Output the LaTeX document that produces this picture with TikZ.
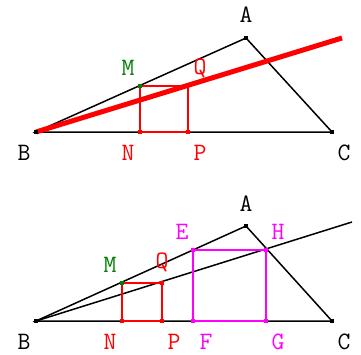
\documentclass[tikz,border=0pt]{standalone}
\usetikzlibrary{positioning}
\definecolor{ptred}{RGB}{255,0,0}
\definecolor{ptgreen}{RGB}{0,128,0}
\definecolor{ptpink}{RGB}{255,0,255}

\begin{document}
\begin{tikzpicture}[
    x=1pt, y=-1pt,
    edge/.style={draw=black, line width=1.5pt},
    redline/.style={draw=ptred, line width=1.5pt},
    pinkline/.style={draw=ptpink, line width=2pt},
    vtx/.style={rectangle, fill=#1, inner sep=0pt, minimum size=3.5pt},
    lbl/.style={text=#1, font=\ttfamily\fontsize{25}{28}\selectfont, inner sep=0pt}
]
    \useasboundingbox (0,0) rectangle (361,354);

    % Top figure points
    \coordinate (A) at (246,38);
    \coordinate (B) at (36,132);
    \coordinate (C) at (332,132);
    \coordinate (M) at (140,86);
    \coordinate (N) at (140,132);
    \coordinate (P) at (188,132);
    \coordinate (Q) at (188,86);
    \coordinate (T) at (342,38);

    % Top triangle and square
    \draw[edge] (B) -- (A) -- (C) -- cycle;
    \draw[redline] (M) -- (Q) -- (P) -- (N) -- cycle;
    \draw[draw=ptred, line width=5pt] (B) -- (T);

    % Top dots
    \node[vtx=black] (dA) at (A) {};
    \node[vtx=black] (dB) at (B) {};
    \node[vtx=black] (dC) at (C) {};
    \node[vtx=ptgreen] (dM) at (M) {};
    \node[vtx=ptred] (dN) at (N) {};
    \node[vtx=ptred] (dP) at (P) {};

    % Top labels
    \node[lbl=black] (lA) at (246,15) {A};
    \node[lbl=black] (lB) at (24,153) {B};
    \node[lbl=black] (lC) at (344,153) {C};
    \node[lbl=ptgreen] (lM) at (128,68) {M};
    \node[lbl=ptred] (lQ) at (200,68) {Q};
    \node[lbl=ptred] (lN) at (128,153) {N};
    \node[lbl=ptred] (lP) at (200,153) {P};

    % Bottom figure points
    \coordinate (A2) at (246,226);
    \coordinate (B2) at (36,321);
    \coordinate (C2) at (332,321);
    \coordinate (M2) at (122,283);
    \coordinate (N2) at (122,321);
    \coordinate (P2) at (162,321);
    \coordinate (Q2) at (162,283);
    \coordinate (E2) at (193,250);
    \coordinate (F2) at (193,321);
    \coordinate (G2) at (266,321);
    \coordinate (H2) at (266,250);
    \coordinate (T2) at (352,222);

    % Bottom triangle, ray and squares
    \draw[edge] (B2) -- (A2) -- (C2) -- cycle;
    \draw[edge] (B2) -- (T2);
    \draw[redline] (M2) -- (Q2) -- (P2) -- (N2) -- cycle;
    \draw[pinkline] (E2) -- (H2) -- (G2) -- (F2) -- cycle;

    % Bottom dots
    \node[vtx=black] (dA2) at (A2) {};
    \node[vtx=black] (dB2) at (B2) {};
    \node[vtx=black] (dC2) at (C2) {};
    \node[vtx=ptgreen] (dM2) at (M2) {};
    \node[vtx=ptred] (dN2) at (N2) {};
    \node[vtx=ptred] (dP2) at (P2) {};
    \node[vtx=ptred] (dQ2) at (Q2) {};
    \node[vtx=ptpink] (dE2) at (E2) {};
    \node[vtx=ptpink] (dF2) at (F2) {};
    \node[vtx=ptpink] (dG2) at (G2) {};
    \node[vtx=ptpink] (dH2) at (H2) {};

    % Bottom labels
    \node[lbl=black] (lA2) at (246,204) {A};
    \node[lbl=black] (lB2) at (24,342) {B};
    \node[lbl=black] (lC2) at (344,342) {C};
    \node[lbl=ptgreen] (lM2) at (110,265) {M};
    \node[lbl=ptred] (lQ2) at (162,262) {Q};
    \node[lbl=ptred] (lN2) at (110,342) {N};
    \node[lbl=ptred] (lP2) at (174,342) {P};
    \node[lbl=ptpink] (lE2) at (182,232) {E};
    \node[lbl=ptpink] (lF2) at (206,342) {F};
    \node[lbl=ptpink] (lG2) at (278,342) {G};
    \node[lbl=ptpink] (lH2) at (278,232) {H};
\end{tikzpicture}
\end{document}
